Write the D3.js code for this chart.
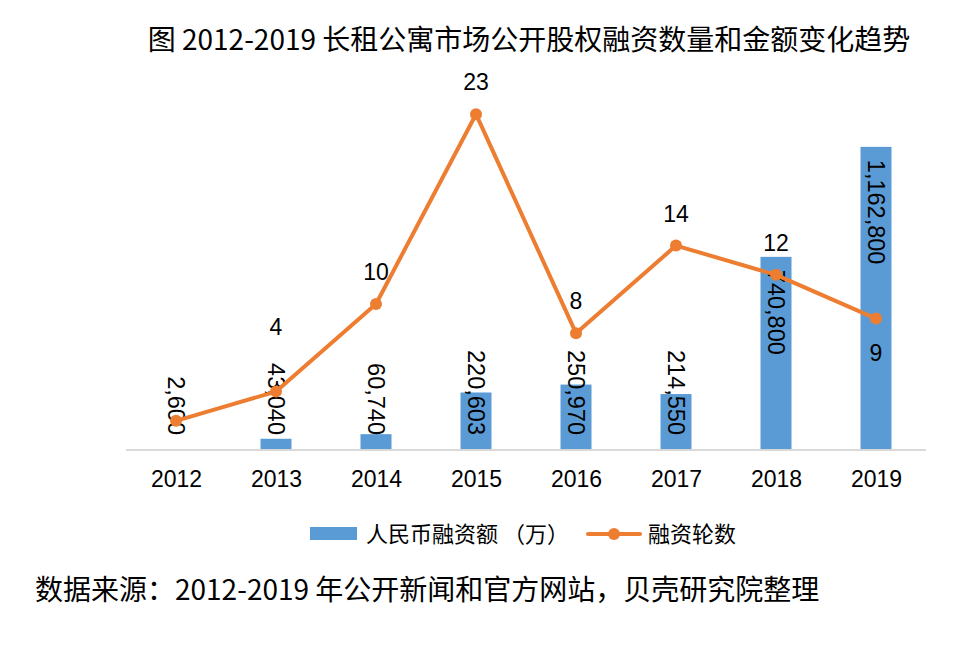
<!DOCTYPE html>
<html><head><meta charset="utf-8">
<script src="https://cdn.jsdelivr.net/npm/d3@7/dist/d3.min.js"></script>
<style>
html,body{margin:0;padding:0;background:#fff;}
svg{display:block;}
</style></head>
<body>
<svg id="chart" width="980" height="662"></svg>
<script>
const years = ["2012","2013","2014","2015","2016","2017","2018","2019"];
const amounts = [2600, 43040, 60740, 220603, 250970, 214550, 740800, 1162800];
const rounds = [2, 4, 10, 23, 8, 14, 12, 9];
const roundLabelPlace = ["none","high","above","above","above","above","above","below"];
const titleText = "图 2012-2019 长租公寓市场公开股权融资数量和金额变化趋势";
const sourceText = "数据来源：2012-2019 年公开新闻和官方网站，贝壳研究院整理";
const legendBar = "人民币融资额 （万）";
const legendLine = "融资轮数";

const svg = d3.select("#chart");
const blue = "#5B9BD5", orange = "#ED7D31";
const cjk = "'Noto Sans CJK SC','Noto Sans',sans-serif";
const latin = "'Liberation Sans',Arial,sans-serif";

const x = d3.scalePoint().domain(years).range([126, 926]).padding(0.5);
const step = x.step();
const barW = step * 0.31;
const yBar = d3.scaleLinear().domain([0, 1400000]).range([450, 85]);
const yLine = d3.scaleLinear().domain([0, 25]).range([450, 85]);

// title
svg.append("text").attr("x", 529).attr("y", 50).attr("text-anchor", "middle")
  .style("font-family", cjk).style("font-size", "28px").attr("fill", "#000").text(titleText);

// bars
svg.append("g").selectAll("rect").data(years).join("rect")
  .attr("x", d => x(d) - barW / 2).attr("width", barW)
  .attr("y", (d, i) => yBar(amounts[i]))
  .attr("height", (d, i) => yBar(0) - yBar(amounts[i]))
  .attr("fill", blue);

// axis
const axis = svg.append("g").attr("transform", "translate(0,450)")
  .call(d3.axisBottom(x).tickSize(0).tickPadding(21));
axis.select(".domain").attr("stroke", "#d9d9d9").attr("stroke-width", 2)
  .attr("d", "M126,0H926");
axis.selectAll("text").style("font-family", latin).style("font-size", "23px").attr("fill", "#000");

// bar labels (rotated)
const fmt = d3.format(",");
const bl = svg.append("g");
years.forEach((yr, i) => {
  const t = bl.append("text")
    .style("font-family", latin).style("font-size", "23.5px").attr("fill", "#000")
    .attr("text-anchor", "end").text(fmt(amounts[i]));
  const len = t.node().getComputedTextLength();
  const top = yBar(amounts[i]);
  const endY = Math.min(yBar(0) - 15, top + 13 + len);
  t.attr("transform", `translate(${x(yr)},${endY}) rotate(90)`).attr("dy", "0.35em");
});

// line
const line = d3.line().x((d, i) => x(years[i])).y(d => yLine(d));
svg.append("path").datum(rounds).attr("d", line)
  .attr("fill", "none").attr("stroke", orange).attr("stroke-width", 4).attr("stroke-linejoin", "round");
svg.append("g").selectAll("circle").data(rounds).join("circle")
  .attr("cx", (d, i) => x(years[i])).attr("cy", d => yLine(d)).attr("r", 6).attr("fill", orange);

// line labels
const ll = svg.append("g");
rounds.forEach((v, i) => {
  const p = roundLabelPlace[i];
  if (p === "none") return;
  const off = p === "above" ? -32 : p === "high" ? -65 : 34;
  ll.append("text").attr("x", x(years[i])).attr("y", yLine(v) + off).attr("dy", "0.35em")
    .attr("text-anchor", "middle").style("font-family", latin).style("font-size", "23px")
    .attr("fill", "#000").text(v);
});

// legend
const lg = svg.append("g");
lg.append("rect").attr("x", 310).attr("y", 527).attr("width", 47).attr("height", 13).attr("fill", blue);
lg.append("text").attr("x", 366).attr("y", 534).attr("dy", "0.35em")
  .style("font-family", cjk).style("font-size", "22px").attr("fill", "#000").text(legendBar);
lg.append("line").attr("x1", 588).attr("x2", 640).attr("y1", 534).attr("y2", 534)
  .attr("stroke", orange).attr("stroke-width", 4).attr("stroke-linecap", "round");
lg.append("circle").attr("cx", 614).attr("cy", 534).attr("r", 6).attr("fill", orange);
lg.append("text").attr("x", 648).attr("y", 534).attr("dy", "0.35em")
  .style("font-family", cjk).style("font-size", "22px").attr("fill", "#000").text(legendLine);

// source
svg.append("text").attr("x", 35).attr("y", 600)
  .style("font-family", cjk).style("font-size", "28px").attr("fill", "#000").text(sourceText);
</script>
</body></html>
